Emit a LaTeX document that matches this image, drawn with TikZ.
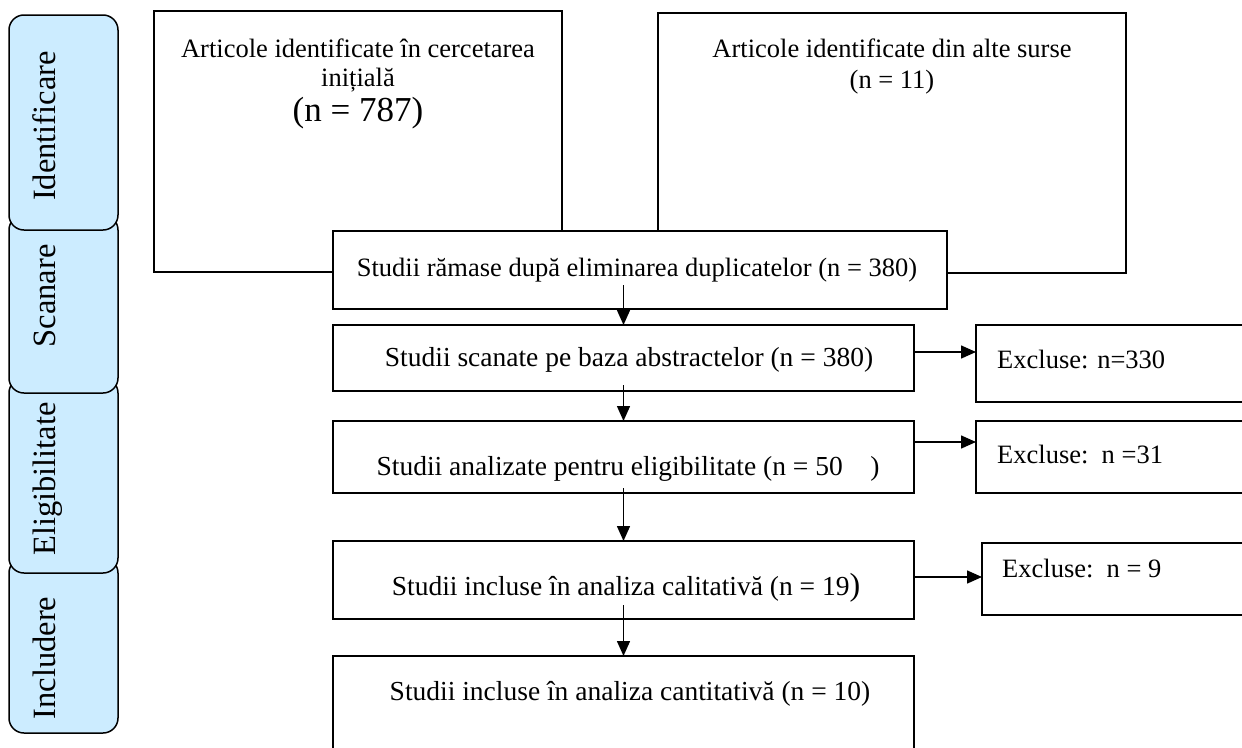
\documentclass[tikz,border=0pt]{standalone}
\usepackage{fontspec}
\setmainfont{Liberation Serif}
\usetikzlibrary{arrows.meta,calc}
\definecolor{tabblue}{RGB}{204,236,255}
\begin{document}
\begin{tikzpicture}[x=1pt,y=-1pt,
  box/.style={draw,line width=1.5pt,fill=white,inner sep=0pt,outer sep=0pt},
  tabbox/.style={draw,line width=1.5pt,fill=tabblue,rounded corners=15pt,inner sep=0pt,outer sep=0pt},
  tablabel/.style={rotate=90,anchor=base,inner sep=0pt,font=\fontsize{32.5}{32.5}\selectfont},
  lbl/.style={anchor=base,inner sep=0pt,font=\fontsize{26.5}{26.5}\selectfont},
  dlbl/.style={anchor=base,inner sep=0pt,font=\fontsize{27.5}{27.5}\selectfont},
  lblw/.style={anchor=base west,inner sep=0pt,font=\fontsize{26.5}{26.5}\selectfont},
  arr/.style={line width=1.5pt,-{Triangle[length=15pt,width=13pt]}},
]
\useasboundingbox (0,0) rectangle (1242,747);
\clip (0,0) rectangle (1242,747);

% phase tabs (bottom one first so the upper ones overlap it)
\node[tabbox,minimum width=109,minimum height=175] (T4) at (63.5,645.5) {};
\node[tabbox,minimum width=109,minimum height=195] (T3) at (63.5,475.5) {};
\node[tabbox,minimum width=109,minimum height=178] (T2) at (63.5,304) {};
\node[tabbox,minimum width=109,minimum height=215] (T1) at (63.5,122.5) {};
\node[tablabel] (L1) at (55,126) {Identificare};
\node[tablabel] (L2) at (55,296) {Scanare};
\node[tablabel] (L3) at (55,479) {Eligibilitate};
\node[tablabel] (L4) at (55,658) {Includere};

% boxes
\node[box,minimum width=408,minimum height=261] (A) at (358,141.5) {};
\node[box,minimum width=468,minimum height=260] (B) at (892,143) {};
\node[box,minimum width=614,minimum height=78] (C) at (640,270) {};
\node[box,minimum width=581,minimum height=66] (D) at (623.5,358) {};
\node[box,minimum width=581,minimum height=72] (D2) at (623.5,457) {};
\node[box,minimum width=581,minimum height=78] (D3) at (623.5,580) {};
\node[box,minimum width=581,minimum height=104] (D4) at (623.5,708) {};
\node[box,minimum width=284,minimum height=77] (E1) at (1118,363.5) {};
\node[box,minimum width=284,minimum height=72] (E2) at (1118,457) {};
\node[box,minimum width=278,minimum height=72] (E3) at (1121,579) {};

% texts
\node[lbl] (A1) at (358,57) {Articole identificate în cercetarea};
\node[lbl] (A2) at (358,86) {inițială};
\node[lbl,font=\fontsize{35}{35}\selectfont] (A3) at (358,121) {(n = 787)};
\node[lbl] (B1) at (892,57) {Articole identificate din alte surse};
\node[lbl] (B2) at (892,88) {(n = 11)};
\node[lbl] (Ct) at (637,276) {Studii rămase după eliminarea duplicatelor (n = 380)};
\node[dlbl] (Dt) at (629,366) {Studii scanate pe baza abstractelor (n = 380)};
\node[dlbl] (D2t) at (628,475) {Studii analizate pentru eligibilitate (n = 50\hspace{1em})};
\node[dlbl] (D3t) at (626,595) {Studii incluse în analiza calitativă (n = 19{\fontsize{32}{32}\selectfont)}};
\node[dlbl] (D4t) at (630,700) {Studii incluse în analiza cantitativă (n = 10)};
\node[lblw] (E1t) at (997,368) {Excluse: n=330};
\node[lblw] (E2t) at (997,463) {Excluse:\ \ n =31};
\node[lblw] (E3t) at (1002,577) {Excluse:\ \ n = 9};

% vertical arrows
\draw[arr] ($(C.south -| D.north)+(0,-24)$) -- (D.north);
\draw[arr] ($(D.south)+(0,-6)$) -- (D2.north);
\draw[arr] ($(D2.south)+(0,-5)$) -- (D3.north);
\draw[arr] ($(D3.south)+(0,-14)$) -- (D4.north);

% horizontal arrows
\coordinate (h1) at ($(D.east)+(0,-6)$);
\coordinate (h2) at ($(D2.east)+(0,-15)$);
\coordinate (h3) at ($(D3.east)+(0,-3)$);
\draw[arr] (h1) -- (h1 -| E1.west);
\draw[arr] (h2) -- (h2 -| E2.west);
\draw[arr] (h3) -- (h3 -| E3.west);
\end{tikzpicture}
\end{document}
